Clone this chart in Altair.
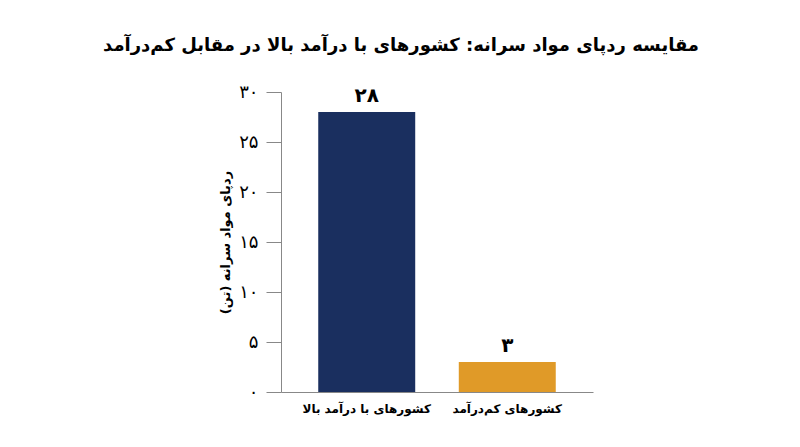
import altair as alt
import pandas as pd

categories = ["کشورهای با درآمد بالا", "کشورهای کم‌درآمد"]
values = [28, 3]
value_labels = ["۲۸", "۳"]
colors = ["#1a2f5f", "#e09a28"]
tick_values = [0, 5, 10, 15, 20, 25, 30]
tick_labels = ["۰", "۵", "۱۰", "۱۵", "۲۰", "۲۵", "۳۰"]
title_text = "مقایسه ردپای مواد سرانه: کشورهای با درآمد بالا در مقابل کم‌درآمد"
y_title = "ردپای مواد سرانه (تن)"

df = pd.DataFrame({"cat": categories, "value": values, "lbl": value_labels, "color": colors})

mapping = "{" + ",".join(f"'{v}':'{l}'" for v, l in zip(tick_values, tick_labels)) + "}"
label_expr = mapping + "[datum.label]"

FONT = "DejaVu Sans"

x = alt.X("cat:N", sort=categories, title=None,
          scale=alt.Scale(paddingInner=0.31, paddingOuter=0.265),
          axis=alt.Axis(labelAngle=0, ticks=False, domainColor="#888888", labelColor="#000000",
                        labelFont=FONT, labelFontSize=12, labelFontWeight="bold", labelPadding=11))
y = alt.Y("value:Q", title=y_title,
          scale=alt.Scale(domain=[0, 30], nice=False),
          axis=alt.Axis(values=tick_values, labelExpr=label_expr, grid=False,
                        domainColor="#888888", tickColor="#888888", tickSize=15,
                        labelFont=FONT, labelFontSize=18, labelColor="#000000", labelPadding=8,
                        titleFont=FONT, titleFontSize=13, titleFontWeight="bold", titleColor="#000000",
                        titleAngle=-90, titleX=-56, titleY=150, titleAlign="center",
                        titleBaseline="middle"))

bars = alt.Chart(df).mark_bar().encode(
    x=x, y=y, color=alt.Color("color:N", scale=None)
)
texts = alt.Chart(df).mark_text(baseline="bottom", dy=-6, font=FONT, fontSize=20,
                                fontWeight="bold", color="#000000").encode(
    x=alt.X("cat:N", sort=categories), y="value:Q", text="lbl:N"
)

chart = alt.layer(bars, texts).properties(
    width=312, height=300,
    autosize=alt.AutoSizeParams(type="none"),
    padding={"left": 273, "top": 84, "right": 199, "bottom": 47},
    title=alt.TitleParams(title_text, font=FONT, fontSize=18, fontWeight="bold",
                          color="#000000", anchor="middle", dx=-36, offset=28),
).configure_view(stroke=None)

chart.save("out.html", embed_options={"renderer": "svg", "actions": False})
